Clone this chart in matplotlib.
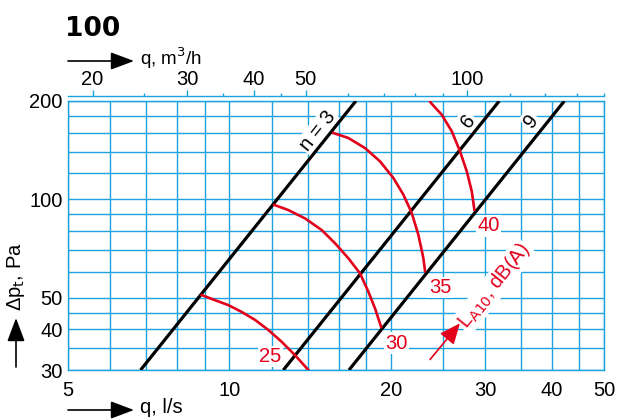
import numpy as np
import matplotlib
matplotlib.use('Agg')
import matplotlib.pyplot as plt
from matplotlib.ticker import FixedLocator, FixedFormatter, NullFormatter

plt.rcParams['font.family'] = ['Liberation Sans Narrow', 'Liberation Sans', 'DejaVu Sans']
plt.rcParams['mathtext.fontset'] = 'custom'
plt.rcParams['mathtext.rm'] = 'Liberation Sans Narrow'
plt.rcParams['mathtext.it'] = 'Liberation Sans Narrow:italic'

# axes ticks
q_ticks = [5, 10, 20, 30, 40, 50]
q_minor = [6, 7, 8, 9, 12, 14, 16, 18, 25, 35, 45]
dp_ticks = [30, 40, 50, 100, 200]
dp_minor = [35, 45, 60, 70, 80, 90, 120, 140, 160, 180]
qh_ticks = [20, 30, 40, 50, 100]
qh_minor = [25, 35, 45, 60, 70, 80, 90, 120, 140, 160, 180]

# damper position lines n (q in l/s at 30 Pa and 200 Pa)
n_labels = ['n = 3', '6', '9']
n_q = [[6.83, 17.22], [12.61, 31.88], [16.72, 42.17]]
n_dp = [30, 200]

# sound level curves L_A10
sound_labels = ['25', '30', '35', '40']
curve25_q = [8.88, 9.40, 9.96, 10.54, 11.17, 11.82, 12.52, 13.26, 14.04, 14.3]
curve25_dp = [50.9, 49.1, 47.4, 45.2, 42.7, 39.8, 36.6, 33.3, 30.0, 28.9]
curve30_q = [12.13, 12.88, 13.84, 14.87, 15.75, 16.67, 17.53, 18.17, 18.70, 19.19]
curve30_dp = [96.1, 92.7, 87.4, 80.5, 73.3, 66.0, 59.3, 52.1, 46.3, 40.7]
curve35_q = [15.63, 16.67, 17.91, 19.10, 20.23, 21.12, 21.89, 22.52, 23.01, 23.18]
curve35_dp = [159.6, 154.1, 143.5, 130.7, 116.2, 103.3, 90.8, 77.9, 66.1, 60.2]
curve40_q = [23.28, 23.78, 24.90, 26.00, 26.94, 27.73, 28.33, 28.65]
curve40_dp = [208.7, 197.2, 181.6, 161.5, 140.2, 121.8, 105.8, 92.9]
curves_q = [curve25_q, curve30_q, curve35_q, curve40_q]
curves_dp = [curve25_dp, curve30_dp, curve35_dp, curve40_dp]

BLUE = '#1aa3e0'
RED = '#e2001a'
W, H = 617, 419

fig = plt.figure(figsize=(6.17, 4.19), dpi=100)
ax = fig.add_axes([68 / W, 1 - 370 / H, 536 / W, 269 / H])
ax.set_xscale('log')
ax.set_yscale('log')
ax.set_xlim(5, 50)
ax.set_ylim(30, 200)

ax.xaxis.set_major_locator(FixedLocator(q_ticks))
ax.xaxis.set_major_formatter(FixedFormatter([str(v) for v in q_ticks]))
ax.xaxis.set_minor_locator(FixedLocator(q_minor))
ax.xaxis.set_minor_formatter(NullFormatter())
ax.yaxis.set_major_locator(FixedLocator(dp_ticks))
ax.yaxis.set_major_formatter(FixedFormatter([str(v) for v in dp_ticks]))
ax.yaxis.set_minor_locator(FixedLocator(dp_minor))
ax.yaxis.set_minor_formatter(NullFormatter())
ax.tick_params(which='both', length=0, labelsize=14.5)
ax.tick_params(axis='x', pad=8)
ax.tick_params(axis='y', pad=4)
ax.set_axisbelow(True)
ax.grid(which='both', color=BLUE, lw=1.0)
for s in ax.spines.values():
    s.set_color(BLUE)
    s.set_linewidth(1.0)

# top axis in m3/h
ax2 = ax.twiny()
ax2.set_xscale('log')
ax2.set_xlim(5 * 3.6, 50 * 3.6)
ax2.xaxis.set_major_locator(FixedLocator(qh_ticks))
ax2.xaxis.set_major_formatter(FixedFormatter([str(v) for v in qh_ticks]))
ax2.xaxis.set_minor_locator(FixedLocator(qh_minor))
ax2.xaxis.set_minor_formatter(NullFormatter())
ax2.tick_params(axis='x', which='major', length=4.3, width=1, color=BLUE, pad=0.8, labelsize=14.5)
ax2.tick_params(axis='x', which='minor', length=2.2, width=1, color=BLUE)
for k in ['left', 'right', 'bottom']:
    ax2.spines[k].set_visible(False)
ax2.spines['top'].set_position(('outward', 3.4))
ax2.spines['top'].set_color(BLUE)
ax2.spines['top'].set_linewidth(1.0)

# n lines
for q in n_q:
    ax.plot(q, n_dp, color='black', lw=2.3, zorder=4, solid_capstyle='butt')

# angle of lines on screen
p0 = ax.transData.transform((n_q[0][0], n_dp[0]))
p1 = ax.transData.transform((n_q[0][1], n_dp[1]))
ang = np.degrees(np.arctan2(p1[1] - p0[1], p1[0] - p0[0]))

box = dict(facecolor='white', edgecolor='none', pad=1)
n_pos = [(14.63, 161.7), (27.87, 173.8), (36.54, 173.8)]
for lab, (x, y) in zip(n_labels, n_pos):
    ax.text(x, y, lab, rotation=ang, rotation_mode='anchor', ha='center', va='center',
            fontsize=14.5, color='black', bbox=box, zorder=3)

# sound curves
for q, dp in zip(curves_q, curves_dp):
    ax.plot(q, dp, color=RED, lw=1.9, zorder=5, solid_joinstyle='round')

s_pos = [(11.91, 33.0), (20.52, 36.2), (24.72, 53.7), (30.41, 83.0)]
for lab, (x, y) in zip(sound_labels, s_pos):
    ax.text(x, y, lab, ha='center', va='center', fontsize=14.5, color=RED, bbox=box, zorder=3)

ax.text(31.17, 54.2, r'L$_{\mathrm{A10}}$, dB(A)', rotation=ang, rotation_mode='anchor',
        ha='center', va='center', fontsize=14.5, color=RED, bbox=box, zorder=3)
ax.annotate('', xy=(26.93, 41.7), xytext=(23.68, 32.3),
            arrowprops=dict(arrowstyle='-|>,head_length=0.7,head_width=0.3', color=RED,
                            lw=1.2, mutation_scale=18, shrinkA=0, shrinkB=0), zorder=6)

# titles and axis captions
fig.text(65 / W, 1 - 36 / H, '100', fontsize=19, fontweight='bold', family='DejaVu Sans',
         va='baseline', ha='left')
fig.text(140 / W, 1 - 58 / H, r'q, m$^3$/h', fontsize=13.5, va='center', ha='left')
fig.text(140 / W, 1 - 407 / H, 'q, l/s', fontsize=14.5, va='center', ha='left')
fig.text(16 / W, 1 - 277 / H, r'Δp$_{\mathrm{t}}$, Pa', fontsize=14.5, rotation=90,
         va='center', ha='center')

arrow_kw = dict(arrowstyle='-|>,head_length=0.8,head_width=0.3', color='black', lw=1.2,
                mutation_scale=18, shrinkA=0, shrinkB=0)
ax.annotate('', xy=(134 / W, 1 - 61 / H), xytext=(68 / W, 1 - 61 / H),
            xycoords='figure fraction', textcoords='figure fraction', arrowprops=arrow_kw)
ax.annotate('', xy=(134 / W, 1 - 410 / H), xytext=(68 / W, 1 - 410 / H),
            xycoords='figure fraction', textcoords='figure fraction', arrowprops=arrow_kw)
ax.annotate('', xy=(16 / W, 1 - 318 / H), xytext=(16 / W, 1 - 367 / H),
            xycoords='figure fraction', textcoords='figure fraction', arrowprops=arrow_kw)

fig.savefig('out.png', dpi=100)
